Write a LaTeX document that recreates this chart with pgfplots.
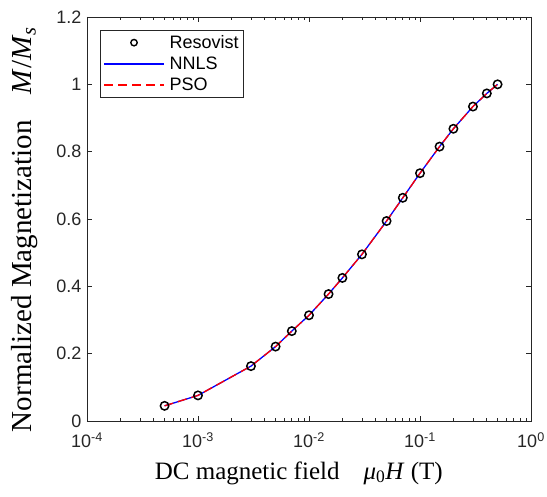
\documentclass[border=0pt]{standalone}
\usepackage{fontspec}
\setmainfont{Liberation Serif}
\setsansfont{Liberation Sans}
\usepackage{pgfplots}
\pgfplotsset{compat=1.18}

\definecolor{axgray}{RGB}{38,38,38}

\pgfplotsset{legend image code/.code={\draw[mark repeat=2,mark phase=2,#1] plot coordinates {(0pt,0pt) (30pt,0pt) (60pt,0pt)};}}
\newcommand{\legtext}[1]{\sffamily\fontsize{18}{21}\selectfont\hspace{3pt}#1}

\pgfplotstableread{
x      y
0.0005 0.045
0.001  0.076
0.003  0.163
0.005  0.221
0.007  0.267
0.01   0.314
0.015  0.377
0.02   0.425
0.03   0.495
0.05   0.594
0.07   0.663
0.1    0.736
0.15   0.815
0.2    0.868
0.3    0.934
0.4    0.973
0.5    1.000
}\resovist

\begin{document}
\begin{tikzpicture}
\begin{semilogxaxis}[
  scale only axis,
  width=444pt, height=404pt,
  xmin=1e-4, xmax=1, ymin=0, ymax=1.2,
  xtick={1e-4,1e-3,1e-2,1e-1,1},
  xticklabels={10\textsuperscript{-4},10\textsuperscript{-3},10\textsuperscript{-2},10\textsuperscript{-1},10\textsuperscript{0}},
  ytick={0,0.2,0.4,0.6,0.8,1,1.2},
  yticklabels={0,0.2,0.4,0.6,0.8,1,1.2},
  xticklabel style={font=\sffamily\fontsize{18}{21}\selectfont, color=axgray, yshift=-8pt},
  yticklabel style={font=\sffamily\fontsize{18}{21}\selectfont, color=axgray, xshift=-2pt},
  tick align=inside, xtick pos=both, ytick pos=both,
  major tick length=5pt, minor tick length=3pt,
  axis line style={axgray, line width=0.9pt},
  every tick/.style={axgray, line width=0.7pt},
  xlabel={DC magnetic field\hspace{24pt}\textit{μ}\textsubscript{0}\textit{H} (T)},
  ylabel={Normalized Magnetization\hspace{26pt}\textit{M}/\textit{M}\textsubscript{\textit{s}}},
  every axis x label/.style={at={(axis description cs:0.477,-0.1436)}, anchor=base,
    font=\rmfamily\fontsize{25}{29}\selectfont},
  every axis y label/.style={at={(axis description cs:-0.124,0.474)}, rotate=90, anchor=base,
    font=\rmfamily\fontsize{29}{33}\selectfont},
  legend style={at={(0.029,0.968)}, anchor=north west, draw=axgray, line width=0.9pt,
    inner xsep=3pt, inner ysep=3pt, row sep=3pt, cells={anchor=west}},
  legend cell align=left,
]
\addlegendimage{only marks, mark=o, mark size=3.2pt, line width=1.4pt, black}
\addlegendentry{\legtext{Resovist}}
\addlegendimage{blue, line width=1.4pt, no marks, solid}
\addlegendentry{\legtext{NNLS}}
\addlegendimage{red, line width=1.4pt, no marks, dash pattern=on 9pt off 5pt}
\addlegendentry{\legtext{PSO}}
\addplot[only marks, mark=o, mark size=4.2pt, line width=1.5pt, black, forget plot]
  table[x=x,y=y] {\resovist};
\addplot[blue, line width=1.3pt, no marks, forget plot]
  table[x=x,y=y] {\resovist};
\addplot[red, line width=1.3pt, no marks, dash pattern=on 9pt off 5pt, forget plot]
  table[x=x,y=y] {\resovist};
\end{semilogxaxis}
\pgfresetboundingbox
\path ([shift={(-87pt,-76pt)}]current axis.south west) rectangle ([shift={(16pt,17pt)}]current axis.north east);
\end{tikzpicture}
\end{document}
